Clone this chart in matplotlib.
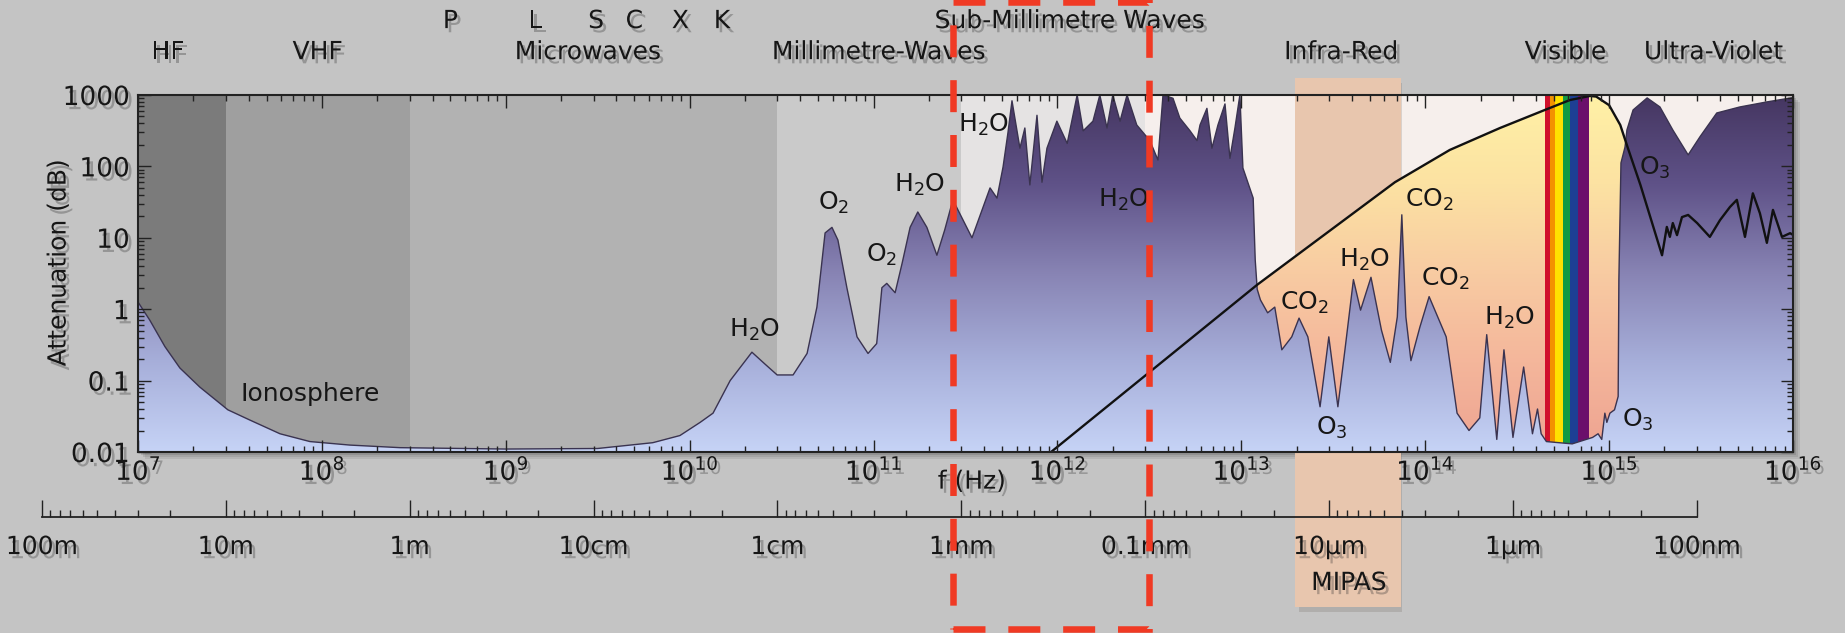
import numpy as np
import matplotlib
matplotlib.use("Agg")
import matplotlib.pyplot as plt
import matplotlib.patheffects as pe
from matplotlib.colors import LinearSegmentedColormap
from matplotlib.patches import Polygon, Rectangle
from matplotlib.transforms import blended_transform_factory
from matplotlib.ticker import LogLocator, NullFormatter

plt.rcParams['font.family'] = ['DejaVu Sans']
plt.rcParams['mathtext.fontset'] = 'dejavusans'

# zenith attenuation of the atmosphere (dB) against frequency (Hz)
att_freq = np.array([
    1.0e7, 1.16e7, 1.40e7, 1.69e7, 2.17e7, 3.08e7, 4.06e7, 5.92e7, 8.61e7, 1.42e8, 2.66e8, 1.0e9, 3.16e9, 6.3e9,
    8.85e9, 1.14e10, 1.34e10, 1.66e10, 2.18e10, 2.57e10, 2.99e10, 3.65e10, 4.35e10, 4.92e10,
    5.45e10, 5.94e10, 6.40e10, 7.16e10, 8.13e10, 9.33e10, 1.04e11, 1.11e11, 1.18e11, 1.31e11,
    1.43e11, 1.58e11, 1.74e11, 1.95e11, 2.21e11, 2.44e11, 2.70e11, 3.06e11, 3.43e11, 3.88e11,
    4.30e11, 4.69e11, 5.06e11, 5.38e11,
    5.66e11, 6.25e11, 6.65e11, 7.08e11, 7.74e11, 8.24e11, 8.77e11, 9.93e11, 1.13e12, 1.28e12,
    1.38e12, 1.56e12, 1.70e12, 1.86e12, 2.00e12, 2.19e12, 2.39e12, 2.70e12, 3.18e12, 3.52e12,
    3.75e12, 4.25e12, 4.63e12, 5.26e12, 5.74e12, 5.96e12, 6.50e12, 6.92e12, 7.46e12, 8.15e12,
    8.67e12, 9.23e12, 9.82e12, 1.02e13, 1.11e13, 1.16e13, 1.19e13, 1.22e13,
    1.27e13, 1.39e13, 1.52e13, 1.66e13, 1.88e13, 2.06e13, 2.30e13, 2.68e13, 2.99e13, 3.35e13,
    3.66e13, 4.07e13, 4.45e13, 5.07e13, 5.78e13, 6.46e13, 7.05e13, 7.46e13, 7.85e13, 8.36e13,
    9.35e13, 1.05e14, 1.19e14, 1.30e14, 1.49e14, 1.73e14, 1.98e14, 2.16e14, 2.45e14, 2.68e14,
    3.00e14, 3.43e14, 3.83e14, 4.08e14, 4.27e14, 4.56e14,
    6.3e14, 8.13e14, 8.71e14, 9.12e14, 9.48e14, 9.72e14, 1.01e15, 1.07e15, 1.12e15, 1.13e15,
    1.16e15, 1.22e15, 1.25e15, 1.35e15, 1.61e15, 1.89e15, 2.22e15, 2.69e15, 3.12e15, 3.85e15,
    5.14e15, 7.21e15, 1.0e16,
])
att_db = np.array([
    1.26, 0.70, 0.30, 0.15, 0.081, 0.039, 0.028, 0.018, 0.014, 0.0125, 0.0115, 0.011, 0.0112, 0.0135,
    0.017, 0.026, 0.035, 0.10, 0.25, 0.17, 0.12, 0.12, 0.24, 1.07,
    11.7, 14, 9.3, 2.0, 0.41, 0.24, 0.33, 2.0, 2.3, 1.7,
    4.4, 14, 23, 14, 5.7, 13, 34, 18, 10, 24,
    50, 36, 98, 295,
    830, 180, 345, 55, 520, 60, 180, 430, 210, 1000,
    315, 430, 1000, 345, 1000, 430, 1000, 380, 230, 123,
    1000, 900, 475, 315, 230, 380, 650, 180, 380, 750,
    130, 345, 1000, 95, 50, 36, 4.9, 1.9,
    1.35, 0.89, 1.07, 0.27, 0.41, 0.75, 0.41, 0.043, 0.41, 0.043,
    0.27, 2.6, 0.97, 2.8, 0.51, 0.18, 0.78, 21, 0.78, 0.19,
    0.56, 1.5, 0.7, 0.41, 0.035, 0.02, 0.03, 0.44, 0.015, 0.27,
    0.016, 0.155, 0.018, 0.04, 0.018, 0.014,
    0.013, 0.016, 0.018, 0.015, 0.035, 0.026, 0.035, 0.039, 0.06, 2.6,
    112, 186, 324, 617, 910, 680, 324, 145, 260, 560,
    680, 800, 920,
])

# upper edge of the infra-red / visible window
edge_freq = np.array([
    9.23e11, 1.22e13, 6.84e13, 1.36e14, 2.55e14, 4.47e14, 6.12e14, 7.87e14, 8.51e14, 1.0e15,
    1.15e15, 1.26e15, 1.48e15, 1.94e15, 2.06e15, 2.14e15, 2.22e15, 2.34e15, 2.49e15, 2.69e15,
    3.01e15, 3.53e15, 4.01e15, 4.54e15, 4.95e15, 5.48e15, 6.05e15, 6.61e15, 7.21e15, 7.78e15,
    8.71e15, 9.64e15, 1.0e16,
])
edge_db = np.array([
    0.01, 2.2, 60, 170, 345, 617, 850, 970, 950, 720,
    380, 186, 55, 5.7, 14.2, 10.3, 16.1, 10.9, 19.5, 20.9,
    16.1, 10.3, 17.7, 27, 34, 10.3, 42, 22, 8.5, 24.6,
    10.3, 11.6, 11,
])

band_edges = [1e7, 3e7, 3e8, 3e10, 3e11, 3e12, 1e16]
band_colors = ['#7b7b7b', '#9f9f9f', '#b2b2b2', '#cacaca', '#e5e3e3', '#f6efec']

visible_edges = [4.48e14, 4.76e14, 5.07e14, 5.61e14, 6.12e14, 6.77e14, 7.76e14]
visible_colors = ['#d0102c', '#f39200', '#ffe100', '#139a43', '#1d3f94', '#6b0f6b']

mipas_band = (1.95e13, 7.4e13)
submm_box = (2.7e11, 3.15e12)

region_names = ['HF', 'VHF', 'Microwaves', 'Millimetre-Waves', 'Infra-Red', 'Visible', 'Ultra-Violet']
region_freq = [1.46e7, 9.5e7, 2.8e9, 1.07e11, 3.5e13, 5.8e14, 3.7e15]
upper_names = ['P', 'L', 'S', 'C', 'X', 'K', 'Sub-Millimetre Waves']
upper_freq = [5.0e8, 1.45e9, 3.1e9, 5.0e9, 8.9e9, 1.5e10, 1.17e12]

line_names = ['Ionosphere', 'H$_2$O', 'O$_2$', 'O$_2$', 'H$_2$O', 'H$_2$O', 'H$_2$O',
              'CO$_2$', 'H$_2$O', 'CO$_2$', 'CO$_2$', 'H$_2$O', 'O$_3$', 'O$_3$', 'O$_3$']
line_freq = [8.6e7, 2.26e10, 6.1e10, 1.11e11, 1.77e11, 3.98e11, 2.3e12,
             2.2e13, 4.7e13, 1.05e14, 1.28e14, 2.88e14, 3.1e13, 1.44e15, 1.78e15]
line_db = [0.065, 0.51, 31, 5.7, 55, 380, 34,
           1.23, 4.9, 34, 2.7, 0.76, 0.022, 0.028, 95]

y_ticks = [0.01, 0.1, 1, 10, 100, 1000]
y_tick_labels = ['0.01', '0.1', '1', '10', '100', '1000']

wl_ticks = [100, 10, 1, 0.1, 0.01, 1e-3, 1e-4, 1e-5, 1e-6, 1e-7]
wl_labels = ['100m', '10m', '1m', '10cm', '1cm', '1mm', '0.1mm', '10\u00b5m', '1\u00b5m', '100nm']

shadow = [pe.withSimplePatchShadow(offset=(2.5, -3), shadow_rgbFace='#2a2a2a', alpha=0.3)]
ink = '#161616'

fig = plt.figure(figsize=(18.45, 6.33), dpi=100, facecolor='#c4c4c4')
L, B, W, H = 138 / 1845, 181 / 633, 1655 / 1845, 357 / 633

# soft drop shadow under the plot frame
for k, a in [(7, 0.12), (5, 0.15), (3, 0.2)]:
    fig.add_artist(Rectangle((L + k / 1845, B - k / 633), W, H, transform=fig.transFigure,
                             facecolor='#4a4a4a', edgecolor='none', alpha=a, zorder=-1))

ax = fig.add_axes([L, B, W, H])
ax.set_xscale('log')
ax.set_yscale('log')
ax.set_xlim(1e7, 1e16)
ax.set_ylim(1e-2, 1e3)
ax.set_autoscale_on(False)

for lo, hi, c in zip(band_edges[:-1], band_edges[1:], band_colors):
    ax.axvspan(lo, hi, color=c, lw=0, zorder=0.1)

xdata_yfig = blended_transform_factory(ax.transData, fig.transFigure)
xdata_yaxes = blended_transform_factory(ax.transData, ax.transAxes)

# MIPAS spectral range, running from above the plot down past the wavelength scale
mb_y0, mb_y1 = 26 / 633, 555 / 633
ax.add_patch(Rectangle((mipas_band[0] * 1.06, mb_y0 - 5 / 633), mipas_band[1] - mipas_band[0], mb_y1 - mb_y0,
                       transform=xdata_yfig, facecolor='#5a4a40', edgecolor='none', alpha=0.18,
                       clip_on=False, zorder=0.15))
ax.add_patch(Rectangle((mipas_band[0], mb_y0), mipas_band[1] - mipas_band[0], mb_y1 - mb_y0,
                       transform=xdata_yfig, facecolor='#e8c6ae', edgecolor='none',
                       clip_on=False, zorder=0.2))

grad = np.linspace(0, 1, 512).reshape(-1, 1)

# window between the absorption and the upper edge line
peach = LinearSegmentedColormap.from_list('peach', ['#eea391', '#f4b69b', '#f8cba2', '#fce2a2', '#fff1a6'])
peach_img = ax.imshow(grad, cmap=peach, origin='lower', extent=(0, 1, 0, 1), transform=ax.transAxes,
                      aspect='auto', interpolation='bilinear', zorder=0.3)
peach_img.set_clip_path(Polygon(np.column_stack([np.r_[edge_freq, edge_freq[-1], edge_freq[0]],
                                                 np.r_[edge_db, 1e-4, 1e-4]]),
                                closed=True, transform=ax.transData))

for lo, hi, c in zip(visible_edges[:-1], visible_edges[1:], visible_colors):
    ax.axvspan(lo, hi, color=c, lw=0, zorder=0.4)

# atmospheric attenuation, shaded dark purple at the top to pale blue at the bottom
purple = LinearSegmentedColormap.from_list('atm', ['#c6d3f6', '#a7afda', '#8884b4', '#5f5288', '#453661'])
att_img = ax.imshow(grad, cmap=purple, origin='lower', extent=(0, 1, 0, 1), transform=ax.transAxes,
                    aspect='auto', interpolation='bilinear', zorder=0.5)
att_img.set_clip_path(Polygon(np.column_stack([np.r_[att_freq, 1e16, 1e7], np.r_[att_db, 1e-4, 1e-4]]),
                              closed=True, transform=ax.transData))
ax.plot(att_freq, att_db, color='#3a3350', lw=1.0, zorder=0.6)
ax.plot(edge_freq, edge_db, color='#111111', lw=1.7, zorder=0.7)

# axes, ticks
ax.set_axisbelow(False)
ax.xaxis.set_major_locator(LogLocator(base=10, numticks=30))
ax.xaxis.set_minor_locator(LogLocator(base=10, subs=np.arange(2, 10), numticks=300))
ax.xaxis.set_minor_formatter(NullFormatter())
ax.set_yticks(y_ticks, labels=y_tick_labels)
ax.yaxis.set_minor_locator(LogLocator(base=10, subs=np.arange(2, 10), numticks=300))
ax.yaxis.set_minor_formatter(NullFormatter())
ax.tick_params(which='both', direction='in', top=True, right=True, color='#222222', width=1.0)
ax.tick_params(which='major', length=9, labelsize=19, labelcolor=ink)
ax.tick_params(which='minor', length=4.5)
ax.tick_params(axis='x', which='major', pad=4)
ax.tick_params(axis='y', which='major', pad=6)
for s in ax.spines.values():
    s.set_linewidth(1.5)
    s.set_color('#222222')
for t in ax.get_xticklabels() + ax.get_yticklabels():
    t.set_path_effects(shadow)

ax.text(-0.048, 0.53, 'Attenuation (dB)', transform=ax.transAxes, rotation=90, ha='center', va='center',
        fontsize=18, color=ink, path_effects=shadow)
ax.text(3.43e11, -0.083, 'f (Hz)', transform=xdata_yaxes, ha='center', va='center',
        fontsize=18, color=ink, path_effects=shadow, clip_on=False)

for name, f in zip(region_names, region_freq):
    ax.text(f, 1.120, name, transform=xdata_yaxes, ha='center', va='center', fontsize=18,
            color=ink, path_effects=shadow, clip_on=False)
for name, f in zip(upper_names, upper_freq):
    ax.text(f, 1.207, name, transform=xdata_yaxes, ha='center', va='center', fontsize=18,
            color=ink, path_effects=shadow, clip_on=False)

for name, f, v in zip(line_names, line_freq, line_db):
    ax.text(f, v, name, ha='center', va='center', fontsize=18, color=ink, zorder=3)

ax.text(3.85e13, 50 / 633, 'MIPAS', transform=xdata_yfig, ha='center', va='center', fontsize=18,
        color=ink, path_effects=shadow, clip_on=False)

# wavelength scale, lined up with the frequency axis (lambda = c / f)
def frac_of(f):
    return L + W * (np.log10(f) - 7) / 9

x0, x1 = frac_of(3e8 / wl_ticks[0]), frac_of(3e8 / wl_ticks[-1])
axw = fig.add_axes([x0, 116 / 633, x1 - x0, 0.0001])
axw.set_xscale('log')
axw.set_xlim(wl_ticks[0], wl_ticks[-1])
axw.patch.set_visible(False)
for side in ['top', 'left', 'right']:
    axw.spines[side].set_visible(False)
axw.spines['bottom'].set_linewidth(1.3)
axw.spines['bottom'].set_color('#222222')
axw.set_yticks([])
axw.set_xticks(wl_ticks, labels=wl_labels)
axw.xaxis.set_minor_locator(LogLocator(base=10, subs=np.arange(2, 10), numticks=300))
axw.xaxis.set_minor_formatter(NullFormatter())
axw.tick_params(which='both', direction='in', color='#222222', width=1.0)
axw.tick_params(which='major', length=12, pad=13, labelsize=18, labelcolor=ink)
axw.tick_params(which='minor', length=5)
for t in axw.get_xticklabels():
    t.set_path_effects(shadow)

# dashed frame round the sub-millimetre range
fig.add_artist(Rectangle((submm_box[0], 4 / 633), submm_box[1] - submm_box[0], 627 / 633,
                         transform=xdata_yfig, fill=False, edgecolor='#f03a24', lw=4.7,
                         linestyle=(0, (4.9, 3.5)), zorder=10, clip_on=False))

fig.savefig('out.png', dpi=100, facecolor=fig.get_facecolor())
